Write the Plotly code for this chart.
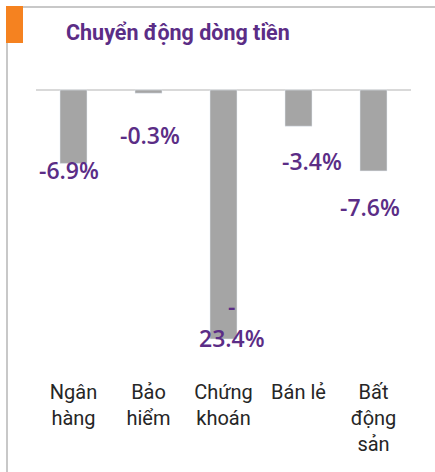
import plotly.graph_objects as go

categories = ["Ngân<br>hàng", "Bảo<br>hiểm", "Chứng<br>khoán", "Bán lẻ", "Bất<br>động<br>sản"]
values = [-6.9, -0.3, -23.4, -3.4, -7.6]
title_text = "Chuyển động dòng tiền"

# label placement offsets (pixels), mimicking the original layout
label_dx = [-5, 1, 8, 13, -4]
label_dy = [-7, -42, 1, -35, -36]
label_wrap = [False, False, True, False, False]

PURPLE = "#5b2d86"
W, H = 435, 472
L, R, T, B = 36, 24, 60, 100
pw, ph = W - L - R, H - T - B

def px_x(p):
    return (p - L) / pw

def px_y(p):
    return (H - B - p) / ph

fig = go.Figure()
fig.add_trace(go.Bar(
    x=categories, y=values, marker_color="#a5a5a5", width=0.36,
    hoverinfo="skip"
))

annotations = []
for c, v, dx, dy, wrap in zip(categories, values, label_dx, label_dy, label_wrap):
    txt = f"{v:.1f}%"
    font = dict(family="Open Sans", size=23, color=PURPLE, weight=600)
    if wrap:
        annotations.append(dict(x=c, y=v, text=txt[0], showarrow=False, xshift=dx,
                                yshift=dy + 32, yanchor="middle", font=font))
        txt = txt[1:]
    annotations.append(dict(x=c, y=v, text=txt, showarrow=False, xshift=dx,
                            yshift=dy, yanchor="middle", font=font))

annotations.append(dict(xref="paper", yref="paper", x=px_x(64), y=px_y(32),
                        xanchor="left", yanchor="middle", text="<b>" + title_text + "</b>",
                        showarrow=False, font=dict(family="Roboto", size=21.5, color=PURPLE)))

shapes = [
    dict(type="line", xref="paper", yref="paper", x0=px_x(6), x1=px_x(436),
         y0=px_y(7), y1=px_y(7), line=dict(color="#c8c8c8", width=2)),
    dict(type="line", xref="paper", yref="paper", x0=px_x(7), x1=px_x(7),
         y0=px_y(7), y1=px_y(473), line=dict(color="#c8c8c8", width=2)),
    dict(type="rect", xref="paper", yref="paper", x0=px_x(6), x1=px_x(23),
         y0=px_y(43), y1=px_y(6), fillcolor="#f58220", line=dict(width=0)),
]

fig.update_layout(
    width=W, height=H,
    margin=dict(l=L, r=R, t=T, b=B),
    paper_bgcolor="white", plot_bgcolor="white",
    showlegend=False,
    annotations=annotations,
    shapes=shapes,
    xaxis=dict(showgrid=False, showline=False, ticks="", ticklabelstandoff=6,
               tickfont=dict(family="Roboto", size=20, color="#262626")),
    yaxis=dict(range=[-26.5, 2.82], showgrid=False, showticklabels=False,
               zeroline=True, zerolinecolor="#d9d9d9", zerolinewidth=2),
)
fig.write_html("out.html", config={"displayModeBar": False},
               post_script="document.body.style.margin='0';document.body.style.overflow='hidden';")
